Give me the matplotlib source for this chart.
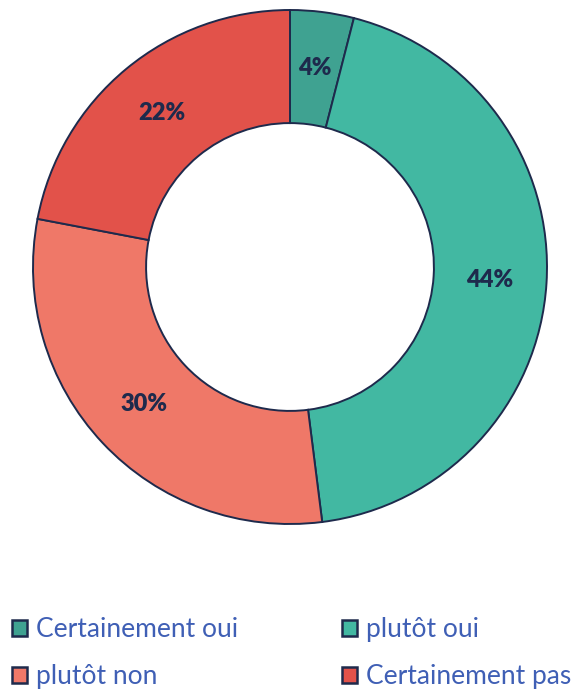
import matplotlib.pyplot as plt
from matplotlib.patches import Patch

labels = ['Certainement oui', 'plutôt oui', 'plutôt non', 'Certainement pas']
values = [4, 44, 30, 22]
colors = ['#3FA291', '#42B8A2', '#EF7868', '#E2524A']
edge = '#1E2A4C'
text_blue = '#3F5FB5'

plt.rcParams['font.family'] = ['Lato', 'DejaVu Sans']

fig = plt.figure(figsize=(5.79, 6.89), dpi=100)
ax = fig.add_axes([33 / 579, 165 / 689, 514 / 579, 514 / 689])

wedges, texts, autotexts = ax.pie(
    values, colors=colors, startangle=90, counterclock=False,
    radius=1.0, autopct='%d%%', pctdistance=0.78,
    wedgeprops=dict(width=0.44, edgecolor=edge, linewidth=1.4),
    textprops=dict(color=edge, fontsize=17, fontweight='heavy'))
ax.set_xlim(-1.0, 1.0)
ax.set_ylim(-1.0, 1.0)
ax.set_aspect('equal')
ax.axis('off')

# legend: two rows, filled row by row
order = [0, 2, 1, 3]
handles = [Patch(facecolor=colors[i], edgecolor=edge, linewidth=1.8) for i in order]
leg = fig.legend(handles, [labels[i] for i in order], ncol=2, loc='upper left',
                 bbox_to_anchor=(12 / 579, 1 - 617 / 689), frameon=False,
                 borderpad=0, borderaxespad=0,
                 handlelength=0.55, handleheight=0.55, handletextpad=0.35,
                 columnspacing=3.95, labelspacing=0.85, fontsize=19,
                 labelcolor=text_blue)

fig.savefig('out.png', dpi=100)
